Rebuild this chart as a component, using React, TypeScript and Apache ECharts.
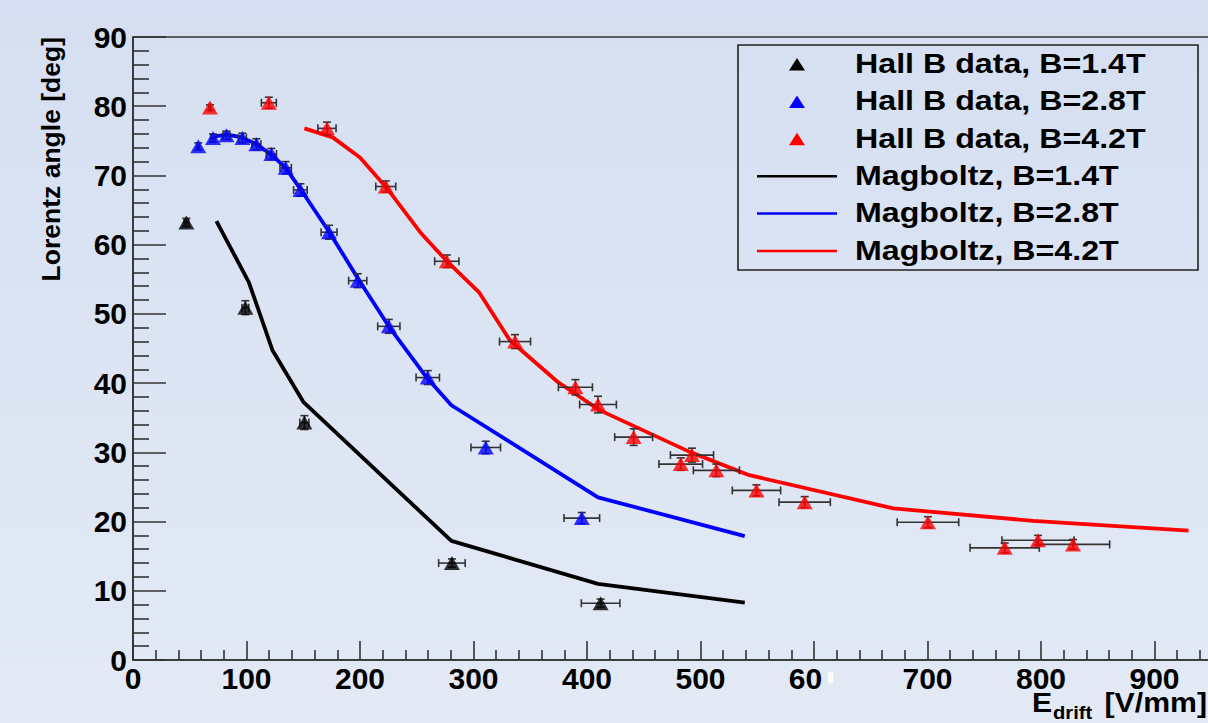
import React, { useEffect, useRef } from "react";
import * as echarts from "echarts";

// ---------- data ----------
const xTickValues = [0, 100, 200, 300, 400, 500, 600, 700, 800, 900];
const yTickValues = [0, 10, 20, 30, 40, 50, 60, 70, 80, 90];

// Hall B data, B=1.4T
const blackX = [47, 99, 151, 281, 412];
const blackY = [63.2, 50.9, 34.3, 14.0, 8.2];
const blackXErr = [2, 3, 4, 11.7, 17];
const blackYErr = [0.6, 1.0, 1.0, 0.6, 0.6];

// Hall B data, B=2.8T
const blueX = [57.5, 70.5, 82.3, 96.4, 108.7, 121.9, 134.5, 147.5, 172.7, 198, 225.4, 259.7, 310.8, 395.4];
const blueY = [74.2, 75.4, 75.8, 75.4, 74.5, 73.1, 71.1, 67.9, 61.8, 54.8, 48.2, 40.8, 30.7, 20.5];
const blueXErr = [1, 2, 3, 3.5, 4, 4.5, 5, 6, 7, 8, 9.8, 10.3, 13, 15.7];
const blueYErr = [0.5, 0.6, 0.6, 0.7, 0.8, 0.8, 0.9, 0.9, 1.0, 1.0, 1.0, 1.0, 0.9, 0.8];

// Hall B data, B=4.2T
const redX = [67.8, 119.7, 170.9, 222.7, 276.5, 336.6, 389.8, 409.7, 441.1, 482.6, 492.5, 514, 549.3, 591.8, 700.4, 768, 797.4, 828.2];
const redY = [79.8, 80.5, 76.8, 68.4, 57.6, 46.0, 39.4, 36.9, 32.2, 28.3, 29.6, 27.4, 24.5, 22.8, 19.9, 16.2, 17.3, 16.7];
const redXErr = [1, 6.6, 8, 8.8, 10.7, 13.7, 15, 16.2, 16.7, 19.2, 19, 20.3, 21.3, 22.6, 27.1, 30.5, 31.8, 32.3];
const redYErr = [0.4, 0.8, 0.9, 0.8, 0.9, 1.0, 1.1, 1.2, 1.2, 0.9, 1.0, 0.9, 0.8, 0.8, 0.8, 0.7, 0.7, 0.7];

// Magboltz curves
const blackCurveX = [73.5, 102, 123, 150, 280.5, 409.7, 539];
const blackCurveY = [63.4, 54.6, 44.7, 37.3, 17.2, 11.0, 8.3];
const blueCurveX = [70.4, 83, 96, 108.9, 122, 134.5, 147.7, 173, 199.4, 225.8, 259.3, 280.5, 409.7, 539];
const blueCurveY = [75.6, 75.9, 75.5, 74.5, 73.0, 71.1, 68.0, 61.8, 54.8, 48.1, 40.7, 36.8, 23.5, 17.9];
const redCurveX = [151, 176, 200, 223, 253, 276, 305, 332, 374, 411, 490, 543, 670, 793, 930];
const redCurveY = [76.8, 75.5, 72.6, 68.3, 61.8, 57.7, 53.1, 46.2, 40.2, 36.1, 30.1, 26.7, 21.9, 20.1, 18.7];

const legendLabels = [
  "Hall B data, B=1.4T",
  "Hall B data, B=2.8T",
  "Hall B data, B=4.2T",
  "Magboltz, B=1.4T",
  "Magboltz, B=2.8T",
  "Magboltz, B=4.2T",
];
const legendKinds = ["marker", "marker", "marker", "line", "line", "line"];
const seriesColors = ["#000000", "#0000ff", "#ff0000"];

const yAxisTitle = "Lorentz angle [deg]";
const xAxisTitleMain = "E";
const xAxisTitleSub = "drift";
const xAxisTitleUnit = "[V/mm]";

// ---------- helpers ----------
const FONT = "'Liberation Sans', Arial, Helvetica, sans-serif";
const AXIS_COLOR = "#333333";

const zip2 = (xs: number[], ys: number[]) => xs.map((x, i) => [x, ys[i]]);
const zip4 = (xs: number[], ys: number[], ex: number[], ey: number[]) =>
  xs.map((x, i) => [x, ys[i], ex[i], ey[i]]);

function errRender(_params: any, api: any) {
  const x = api.value(0);
  const y = api.value(1);
  const ex = api.value(2);
  const ey = api.value(3);
  const l = api.coord([x - ex, y]);
  const r = api.coord([x + ex, y]);
  const t = api.coord([x, y + ey]);
  const b = api.coord([x, y - ey]);
  const cap = 4;
  const style = { stroke: "#333333", lineWidth: 1.6 };
  return {
    type: "group",
    children: [
      { type: "line", shape: { x1: l[0], y1: l[1], x2: r[0], y2: r[1] }, style },
      { type: "line", shape: { x1: l[0], y1: l[1] - cap, x2: l[0], y2: l[1] + cap }, style },
      { type: "line", shape: { x1: r[0], y1: r[1] - cap, x2: r[0], y2: r[1] + cap }, style },
      { type: "line", shape: { x1: t[0], y1: t[1], x2: b[0], y2: b[1] }, style },
      { type: "line", shape: { x1: t[0] - cap, y1: t[1], x2: t[0] + cap, y2: t[1] }, style },
      { type: "line", shape: { x1: b[0] - cap, y1: b[1], x2: b[0] + cap, y2: b[1] }, style },
    ],
  };
}

function buildLegend() {
  const left = 738;
  const top = 45;
  const w = 460;
  const h = 225;
  const rowY0 = 62.5;
  const rowStep = 37.4;
  const els: any[] = [
    {
      type: "rect",
      shape: { x: left, y: top, width: w, height: h },
      style: { fill: "none", stroke: "#222222", lineWidth: 1.6 },
      z: 10,
    },
  ];
  legendLabels.forEach((label, i) => {
    const cy = rowY0 + i * rowStep;
    const color = seriesColors[i % 3];
    if (legendKinds[i] === "marker") {
      els.push({
        type: "polygon",
        shape: {
          points: [
            [797, cy - 4.5],
            [789, cy + 8],
            [805, cy + 8],
          ],
        },
        style: { fill: color },
        z: 10,
      });
    } else {
      els.push({
        type: "line",
        shape: { x1: 757, y1: cy + 1.5, x2: 837, y2: cy + 1.5 },
        style: { stroke: color, lineWidth: 2.5 },
        z: 10,
      });
    }
    els.push({
      type: "text",
      x: 855,
      y: cy,
      scaleX: 1.13,
      style: {
        text: label,
        fill: "#000000",
        font: `bold 28.5px ${FONT}`,
        align: "left",
        verticalAlign: "middle",
      },
      z: 10,
    });
  });
  return els;
}

export default function App() {
  const ref = useRef<HTMLDivElement>(null);

  useEffect(() => {
    if (!ref.current) return;
    const chart = echarts.init(ref.current, undefined, { renderer: "svg" });

    const labelStyle = {
      color: "#000000",
      fontSize: 30,
      fontWeight: "bold" as const,
      fontFamily: FONT,
    };

    const option: any = {
      animation: false,
      backgroundColor: "transparent",
      grid: {
        left: 133,
        top: 37,
        width: 1135,
        height: 623,
        show: true,
        borderColor: AXIS_COLOR,
        borderWidth: 1.6,
        backgroundColor: "transparent",
      },
      xAxis: {
        type: "value",
        min: 0,
        max: 1000,
        interval: 100,
        axisLine: { show: true, lineStyle: { color: AXIS_COLOR, width: 1.6 } },
        axisTick: { show: true, inside: true, length: 19, lineStyle: { color: AXIS_COLOR, width: 1.6 } },
        minorTick: { show: true, splitNumber: 5, length: 10, lineStyle: { color: AXIS_COLOR, width: 1.6 } },
        splitLine: { show: false },
        axisLabel: {
          ...labelStyle,
          margin: 3,
          showMaxLabel: false,
          formatter: (v: number) => {
            if (xTickValues.indexOf(v) < 0) return "";
            if (v === 600) return "{p|60}";
            return String(v);
          },
          rich: {
            p: { ...labelStyle, padding: [0, 17, 0, 0] },
          },
        },
      },
      yAxis: {
        type: "value",
        min: 0,
        max: 90,
        interval: 10,
        axisLine: { show: true, lineStyle: { color: AXIS_COLOR, width: 1.6 } },
        axisTick: { show: true, inside: true, length: 33, lineStyle: { color: AXIS_COLOR, width: 1.6 } },
        minorTick: { show: true, splitNumber: 5, length: 16, lineStyle: { color: AXIS_COLOR, width: 1.6 } },
        splitLine: { show: false },
        axisLabel: {
          ...labelStyle,
          margin: 6,
          formatter: (v: number) => (yTickValues.indexOf(v) >= 0 ? String(v) : ""),
        },
      },
      series: [
        {
          name: "Magboltz, B=1.4T",
          type: "line",
          data: zip2(blackCurveX, blackCurveY),
          showSymbol: false,
          lineStyle: { color: seriesColors[0], width: 3.8 },
          z: 2,
        },
        {
          name: "Magboltz, B=2.8T",
          type: "line",
          data: zip2(blueCurveX, blueCurveY),
          showSymbol: false,
          lineStyle: { color: seriesColors[1], width: 3.8 },
          z: 2,
        },
        {
          name: "Magboltz, B=4.2T",
          type: "line",
          data: zip2(redCurveX, redCurveY),
          showSymbol: false,
          lineStyle: { color: seriesColors[2], width: 3.8 },
          z: 2,
        },
        {
          name: "err1",
          type: "custom",
          renderItem: errRender,
          data: zip4(blackX, blackY, blackXErr, blackYErr),
          encode: { x: 0, y: 1 },
          z: 3,
        },
        {
          name: "err2",
          type: "custom",
          renderItem: errRender,
          data: zip4(blueX, blueY, blueXErr, blueYErr),
          encode: { x: 0, y: 1 },
          z: 3,
        },
        {
          name: "err3",
          type: "custom",
          renderItem: errRender,
          data: zip4(redX, redY, redXErr, redYErr),
          encode: { x: 0, y: 1 },
          z: 3,
        },
        {
          name: "Hall B data, B=1.4T",
          type: "scatter",
          data: zip2(blackX, blackY),
          symbol: "triangle",
          symbolSize: [16, 14],
          itemStyle: { color: seriesColors[0] },
          z: 4,
        },
        {
          name: "Hall B data, B=2.8T",
          type: "scatter",
          data: zip2(blueX, blueY),
          symbol: "triangle",
          symbolSize: [16, 14],
          itemStyle: { color: seriesColors[1] },
          z: 4,
        },
        {
          name: "Hall B data, B=4.2T",
          type: "scatter",
          data: zip2(redX, redY),
          symbol: "triangle",
          symbolSize: [16, 14],
          itemStyle: { color: seriesColors[2] },
          z: 4,
        },
      ],
      graphic: [
        ...buildLegend(),
        {
          type: "text",
          x: 51,
          y: 37,
          rotation: Math.PI / 2,
          style: {
            text: yAxisTitle,
            fill: "#000000",
            font: `bold 26.5px ${FONT}`,
            align: "right",
            verticalAlign: "middle",
          },
        },
        {
          type: "text",
          x: 1032,
          y: 703,
          scaleX: 1.12,
          style: {
            text: xAxisTitleMain,
            fill: "#000000",
            font: `bold 27px ${FONT}`,
            align: "left",
            verticalAlign: "middle",
          },
        },
        {
          type: "text",
          x: 1053,
          y: 713,
          scaleX: 1.12,
          style: {
            text: xAxisTitleSub,
            fill: "#000000",
            font: `bold 18px ${FONT}`,
            align: "left",
            verticalAlign: "middle",
          },
        },
        {
          type: "text",
          x: 1207,
          y: 703,
          scaleX: 1.12,
          style: {
            text: xAxisTitleUnit,
            fill: "#000000",
            font: `bold 27px ${FONT}`,
            align: "right",
            verticalAlign: "middle",
          },
        },
        {
          type: "rect",
          shape: { x: 828, y: 672, width: 5, height: 11, r: 2 },
          style: { fill: "#ffffff" },
        },
      ],
    };

    chart.setOption(option);
    return () => chart.dispose();
  }, []);

  return (
    <div
      style={{
        position: "absolute",
        left: 0,
        top: 0,
        width: 1208,
        height: 723,
        overflow: "hidden",
        background: "linear-gradient(180deg, #d5dff1 0%, #e3eaf6 100%)",
      }}
    >
      <div ref={ref} style={{ width: 1300, height: 723 }} />
    </div>
  );
}
